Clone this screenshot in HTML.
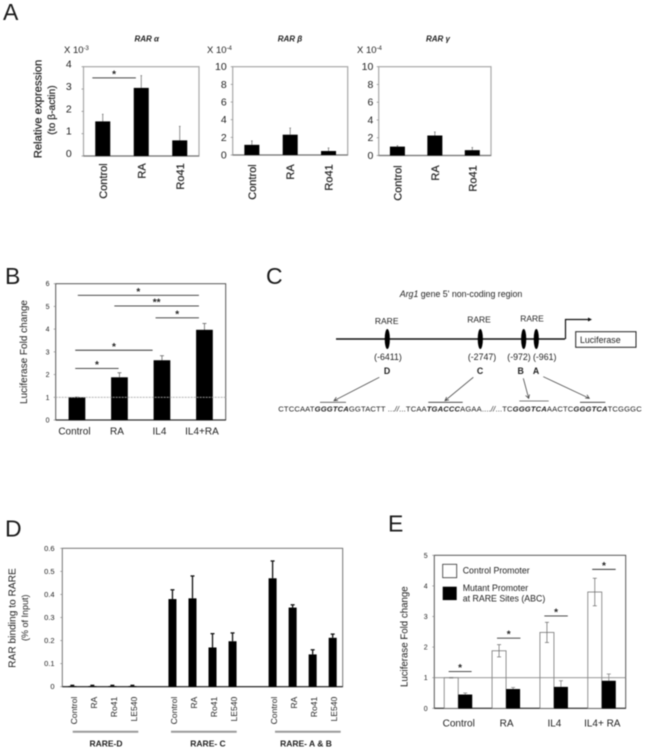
<!DOCTYPE html>
<html lang="en">
<head>
<meta charset="utf-8">
<title>RAR expression and Arg1 promoter figure</title>
<style>
html,body{margin:0;padding:0;background:#fff;}
body{width:645px;height:750px;overflow:hidden;}
svg{display:block;filter:blur(0.45px);}
text{font-family:"Liberation Sans",sans-serif;fill:#222;}
.panel-letter{font-size:23px;fill:#1a1a1a;}
.heavy{stroke:#222;stroke-width:0.2px;}
</style>
</head>
<body>
<svg id="figure" xmlns="http://www.w3.org/2000/svg" width="645" height="750" viewBox="0 0 645 750">
  <rect x="0" y="0" width="645" height="750" fill="#fff"/>
  <text class="panel-letter" x="3" y="20">A</text>
  <text class="panel-letter" x="5" y="284">B</text>
  <text class="panel-letter" x="266" y="284">C</text>
  <text class="panel-letter" x="5" y="536.5">D</text>
  <text class="panel-letter" x="388" y="531.5">E</text>

  <!-- Panel A annotations -->
  <text x="146.7" y="41.7" text-anchor="middle" font-size="8" font-weight="bold" font-style="italic">RAR α</text>
  <text x="290" y="41.7" text-anchor="middle" font-size="8" font-weight="bold" font-style="italic">RAR β</text>
  <text x="438" y="41.7" text-anchor="middle" font-size="8" font-weight="bold" font-style="italic">RAR γ</text>
  <text x="64" y="53" font-size="9.5">X 10<tspan font-size="6" dy="-3">-3</tspan></text>
  <text x="207" y="53" font-size="9.5">X 10<tspan font-size="6" dy="-3">-4</tspan></text>
  <text x="357" y="53" font-size="9.5">X 10<tspan font-size="6" dy="-3">-4</tspan></text>
  <text class="heavy" transform="translate(41.7,109) rotate(-90)" text-anchor="middle" font-size="11.3">Relative expression</text>
  <text class="heavy" transform="translate(55,110) rotate(-90)" text-anchor="middle" font-size="10.3">(to β-actin)</text>

  <!-- Panel B annotations -->
  <text transform="translate(27,352) rotate(-90)" text-anchor="middle" font-size="10">Luciferase Fold change</text>

  <!-- Panel C diagram -->
  <g fill="none">
    <text x="461" y="297" text-anchor="middle" font-size="8.8"><tspan font-style="italic">Arg1</tspan> gene 5' non-coding region</text>
    <line x1="336" y1="339" x2="565" y2="339" stroke="#111" stroke-width="1.5"/>
    <path d="M565.5 339V319.5H588" stroke="#111" stroke-width="1.2"/>
    <polygon points="588,317.5 592,319.5 588,321.5" fill="#111"/>
    <rect x="575.7" y="331.7" width="60.3" height="15.6" stroke="#222" stroke-width="1" fill="#fff"/>
    <text x="580" y="343" font-size="8.8">Luciferase</text>
    <ellipse cx="387.3" cy="339" rx="2.6" ry="10" fill="#000"/>
    <ellipse cx="480.3" cy="339" rx="2.6" ry="10" fill="#000"/>
    <ellipse cx="523.7" cy="339" rx="2.6" ry="10" fill="#000"/>
    <ellipse cx="536.3" cy="339" rx="2.6" ry="10" fill="#000"/>
    <text x="386.7" y="324" text-anchor="middle" font-size="8.5">RARE</text>
    <text x="479" y="322.5" text-anchor="middle" font-size="8.5">RARE</text>
    <text x="532" y="321.5" text-anchor="middle" font-size="8.5">RARE</text>
    <text x="388" y="360" text-anchor="middle" font-size="8.8">(-6411)</text>
    <text x="482" y="360" text-anchor="middle" font-size="8.8">(-2747)</text>
    <text x="519" y="360" text-anchor="middle" font-size="8.8">(-972)</text>
    <text x="544.7" y="360" text-anchor="middle" font-size="8.8">(-961)</text>
    <text x="387" y="374" text-anchor="middle" font-size="8.8" font-weight="bold">D</text>
    <text x="480" y="374" text-anchor="middle" font-size="8.8" font-weight="bold">C</text>
    <text x="520.7" y="374" text-anchor="middle" font-size="8.8" font-weight="bold">B</text>
    <text x="536" y="374" text-anchor="middle" font-size="8.8" font-weight="bold">A</text>
    <path d="M379.3 377.3L334 400.7M338 400.5L334 400.7L336.3 397.2" stroke="#444" stroke-width="0.8"/>
    <path d="M473.3 377.3L445 400.7M449 399.9L445 400.7L446.6 397" stroke="#444" stroke-width="0.8"/>
    <path d="M523.3 378.3L528.7 398.3M525.6 395.5L528.7 398.3L529.5 394.4" stroke="#444" stroke-width="0.8"/>
    <path d="M543.3 376.7L589.3 398.3M585.2 398.1L589.3 398.3L587 394.8" stroke="#444" stroke-width="0.8"/>
    <line x1="320" y1="402.3" x2="346" y2="402.3" stroke="#555" stroke-width="0.8"/>
    <line x1="428.3" y1="402.3" x2="462.7" y2="402.3" stroke="#333" stroke-width="0.8"/>
    <line x1="519.3" y1="401" x2="548.7" y2="401" stroke="#555" stroke-width="0.8"/>
    <line x1="580" y1="402.3" x2="605.3" y2="402.3" stroke="#333" stroke-width="0.8"/>
    <text x="278.3" y="411.7" font-size="7.6" textLength="363.4" lengthAdjust="spacing">CTCCAAT<tspan font-weight="bold" font-style="italic">GGGTCA</tspan>GGTACTT ...<tspan font-style="italic">//</tspan>...TCAA<tspan font-weight="bold" font-style="italic">TGACCC</tspan>AGAA....<tspan font-style="italic">//</tspan>...TC<tspan font-weight="bold" font-style="italic">GGGTCA</tspan>AACTC<tspan font-weight="bold" font-style="italic">GGGTCA</tspan>TCGGGC</text>
  </g>

  <!-- Panel D annotations -->
  <text transform="translate(15.5,618) rotate(-90)" text-anchor="middle" font-size="10.2">RAR binding to RARE</text>
  <text transform="translate(28,617.7) rotate(-90)" text-anchor="middle" font-size="9">(% of Input)</text>
  <line x1="72.7" y1="731.7" x2="138.3" y2="731.7" stroke="#999" stroke-width="2"/>
  <line x1="171" y1="731.7" x2="236.7" y2="731.7" stroke="#999" stroke-width="2"/>
  <line x1="275" y1="731.7" x2="340.7" y2="731.7" stroke="#999" stroke-width="2"/>
  <text x="106" y="746.7" text-anchor="middle" font-size="8.5" font-weight="bold">RARE-D</text>
  <text x="208" y="746.7" text-anchor="middle" font-size="8.5" font-weight="bold">RARE- C</text>
  <text x="306" y="746.7" text-anchor="middle" font-size="8.5" font-weight="bold">RARE- A &amp; B</text>

  <!-- Panel E annotations -->
  <text transform="translate(407.3,636.7) rotate(-90)" text-anchor="middle" font-size="9.7">Luciferase Fold change</text>
</svg>

<script>
// Panel A
const rarCategories = ['Control', 'RA', 'Ro41'];
const rarAlphaTicks = ['0', '1', '2', '3', '4'];
const rarAlphaValues = [1.55, 3.05, 0.7];
const rarAlphaErrors = [0.32, 0.55, 0.63];
const rarBetaTicks = ['0', '2', '4', '6', '8', '10'];
const rarBetaValues = [1.15, 2.3, 0.45];
const rarBetaErrors = [0.45, 0.75, 0.35];
const rarGammaTicks = ['0', '2', '4', '6', '8', '10'];
const rarGammaValues = [1.0, 2.25, 0.6];
const rarGammaErrors = [0.1, 0.4, 0.3];
const rarAlphaSigFrom = [-0.27];
const rarAlphaSigTo = [0.86];
const rarAlphaSigLevel = [3.5];
const rarAlphaSigLabels = ['*'];

// Panel B
const lucCategories = ['Control', 'RA', 'IL4', 'IL4+RA'];
const lucTicks = ['0', '1', '2', '3', '4', '5', '6'];
const lucValues = [1.0, 1.88, 2.63, 3.97];
const lucErrors = [0.01, 0.2, 0.2, 0.28];
const lucSigFrom = [0.02, 0.88, 1.85, -0.04, -0.04];
const lucSigTo = [2.87, 2.87, 2.87, 1.78, 0.98];
const lucSigLevel = [5.49, 5.02, 4.5, 3.07, 2.27];
const lucSigLabels = ['*', '**', '*', '*', '*'];

// Panel D
const chipCategories = ['Control', 'RA', 'Ro41', 'LE540', '', 'Control', 'RA', 'Ro41', 'LE540', '', 'Control', 'RA', 'Ro41', 'LE540'];
const chipTicks = ['0', '0.1', '0.2', '0.3', '0.4', '0.5', '0.6'];
const chipValues = [0.003, 0.003, 0.003, 0.003, null, 0.38, 0.383, 0.17, 0.197, null, 0.47, 0.343, 0.14, 0.212];
const chipErrors = [0.003, 0.003, 0.003, 0.003, null, 0.04, 0.097, 0.06, 0.036, null, 0.075, 0.012, 0.02, 0.016];

// Panel E
const mutCategories = ['Control', 'RA', 'IL4', 'IL4+ RA'];
const mutTicks = ['0', '1', '2', '3', '4', '5'];
const controlPromoterValues = [1.0, 1.88, 2.48, 3.8];
const controlPromoterErrors = [0.01, 0.2, 0.33, 0.45];
const mutantPromoterValues = [0.45, 0.63, 0.7, 0.9];
const mutantPromoterErrors = [0.05, 0.05, 0.2, 0.22];
const mutSigFrom = [-0.2, 0.81, 1.8, 2.8];
const mutSigTo = [0.28, 1.3, 2.29, 3.29];
const mutSigLevel = [1.2, 2.29, 3.02, 4.54];
const mutSigLabels = ['*', '*', '*', '*'];

const NS = 'http://www.w3.org/2000/svg';
const svg = document.getElementById('figure');

function make(tag, attrs, parent) {
  const node = document.createElementNS(NS, tag);
  for (const key in attrs) node.setAttribute(key, attrs[key]);
  parent.appendChild(node);
  return node;
}
function bandScale(left, right, count) {
  const band = (right - left) / count;
  return function (i) { return left + band * (i + 0.5); };
}
function linearScale(max, bottom, top) {
  return function (v) { return bottom - (v / max) * (bottom - top); };
}
function drawFrame(box, color, axisColor, width) {
  const frame = make('rect', { x: box.left, y: box.top, width: box.right - box.left, height: box.bottom - box.top, fill: 'none', stroke: color, 'stroke-width': width }, svg);
  
  
  const axis = make('line', { x1: box.left, y1: box.bottom, x2: box.right, y2: box.bottom, stroke: axisColor, 'stroke-width': 1.2 }, svg);
  
  
}
function drawYTicks(box, labels, max, yScale, style) {
  labels.forEach(function (label) {
    const y = yScale(Number(label));
    const tick = make('line', { x1: box.left - 2, y1: y, x2: box.left, y2: y, stroke: '#888', 'stroke-width': 0.7 }, svg);
    
    
    const text = make('text', { x: style.x, y: y + style.dy, 'text-anchor': 'end', 'font-size': style.size }, svg);
    text.textContent = label;
    
    
  });
}
function drawBar(box, cx, width, value, yScale, fill, stroke) {
  const y = yScale(value);
  const bar = make('rect', { x: cx - width / 2, y: y, width: width, height: box.bottom - y, fill: fill, stroke: stroke, 'stroke-width': stroke === 'none' ? 0 : 0.8 }, svg);
  
  
}
function drawError(box, cx, value, err, yScale, style) {
  const topY = yScale(value + err);
  const lowY = style.both ? yScale(value - err) : yScale(value);
  const line = make('line', { x1: cx, y1: lowY, x2: cx, y2: topY, stroke: style.color, 'stroke-width': style.width }, svg);
  
  
  if (style.cap > 0) {
    const cap = make('line', { x1: cx - style.cap, y1: topY, x2: cx + style.cap, y2: topY, stroke: style.color, 'stroke-width': style.width }, svg);
    
    
    if (style.both) {
      const lowCap = make('line', { x1: cx - style.cap, y1: lowY, x2: cx + style.cap, y2: lowY, stroke: style.color, 'stroke-width': style.width }, svg);
      
      
    }
  }
}
function drawRotatedLabels(box, labels, xScale, topY, size, shift, heavy) {
  labels.forEach(function (label, i) {
    if (!label) return;
    const text = make('text', { transform: 'translate(' + (xScale(i) + shift) + ',' + topY + ') rotate(-90)', 'text-anchor': 'end', 'font-size': size }, svg);
    if (heavy) text.setAttribute('class', 'heavy');
    text.textContent = label;
    
    
  });
}
function drawSignificance(box, from, to, level, labels, xScale, yScale, band, color) {
  labels.forEach(function (label, i) {
    const x1 = xScale(0) + from[i] * band;
    const x2 = xScale(0) + to[i] * band;
    const y = yScale(level[i]);
    const line = make('line', { x1: x1, y1: y, x2: x2, y2: y, stroke: color, 'stroke-width': 0.9 }, svg);
    
    
    const star = make('text', { x: (x1 + x2) / 2, y: y - 0.5, 'text-anchor': 'middle', 'font-size': 10, 'font-weight': 'bold' }, svg);
    star.textContent = label;
    
    
  });
}
function drawReference(box, value, yScale, color, dash) {
  const y = yScale(value);
  const line = make('line', { x1: box.left, y1: y, x2: box.right, y2: y, stroke: color, 'stroke-width': 0.9, 'stroke-dasharray': dash }, svg);
  
  
}

function drawRarChart(box, values, errors, ticks, max, tickStyle, labelTop) {
  const x = bandScale(box.left, box.right, values.length);
  const y = linearScale(max, box.bottom, box.top);
  drawFrame(box, '#a8a8a8', '#777', 1.2);
  drawYTicks(box, ticks, max, y, tickStyle);
  values.forEach(function (v, i) {
    drawError(box, x(i), v, errors[i], y, { color: '#777', width: 0.8, cap: 0.8 });
    drawBar(box, x(i), 15, v, y, '#000', 'none');
  });
  drawRotatedLabels(box, rarCategories, x, labelTop, 11, 4, true);
  return { x: x, y: y };
}

// Panel A charts
const alphaBox = { name: 'rar-alpha', left: 83.5, right: 199, top: 66.7, bottom: 156 };
const alphaAxes = drawRarChart(alphaBox, rarAlphaValues, rarAlphaErrors, rarAlphaTicks, 4, { x: 71.7, dy: 1, size: 10.5 }, 163.3);
drawSignificance(alphaBox, rarAlphaSigFrom, rarAlphaSigTo, rarAlphaSigLevel, rarAlphaSigLabels, alphaAxes.x, alphaAxes.y, 38.5, '#444');
const betaBox = { name: 'rar-beta', left: 232.7, right: 347.7, top: 66.7, bottom: 155 };
drawRarChart(betaBox, rarBetaValues, rarBetaErrors, rarBetaTicks, 10, { x: 226.7, dy: 3.5, size: 10.5 }, 164.3);
const gammaBox = { name: 'rar-gamma', left: 378.7, right: 491, top: 66.7, bottom: 155.5 };
drawRarChart(gammaBox, rarGammaValues, rarGammaErrors, rarGammaTicks, 10, { x: 373.3, dy: 3.5, size: 10.5 }, 165.3);

// Panel B chart
(function () {
  const box = { name: 'luciferase', left: 55.7, right: 225.7, top: 283.7, bottom: 420 };
  const x = bandScale(box.left, box.right, lucValues.length);
  const y = linearScale(6, box.bottom, box.top);
  drawFrame(box, '#444', '#333', 0.9);
  drawYTicks(box, lucTicks, 6, y, { x: 49.5, dy: 2.5, size: 7 });
  lucValues.forEach(function (v, i) {
    drawError(box, x(i), v, lucErrors[i], y, { color: '#666', width: 0.8, cap: 2 });
    drawBar(box, x(i), 16.7, v, y, '#000', 'none');
  });
  drawReference(box, 1, y, '#aaa', '2 1');
  lucCategories.forEach(function (label, i) {
    const text = make('text', { x: x(i) - 2.5, y: 434.3, 'text-anchor': 'middle', 'font-size': 10 }, svg);
    text.textContent = label;
    
    
  });
  drawSignificance(box, lucSigFrom, lucSigTo, lucSigLevel, lucSigLabels, x, y, 42.5, '#333');
})();

// Panel D chart
(function () {
  const box = { name: 'rar-binding', left: 62.3, right: 342.7, top: 548.3, bottom: 686.7 };
  const x = bandScale(box.left, box.right, chipCategories.length);
  const y = linearScale(0.6, box.bottom, box.top);
  drawFrame(box, '#666', '#222', 0.9);
  drawYTicks(box, chipTicks, 0.6, y, { x: 54.5, dy: 2.5, size: 7.5 });
  chipValues.forEach(function (v, i) {
    if (v === null) return;
    drawError(box, x(i), v, chipErrors[i], y, { color: '#111', width: 1.3, cap: 2 });
    drawBar(box, x(i), 8, v, y, '#000', 'none');
  });
  drawRotatedLabels(box, chipCategories, x, 696.7, 8.6, 4.5, false);
})();

// Panel E chart
(function () {
  const box = { name: 'mutant-promoter', left: 434.3, right: 625.7, top: 555.3, bottom: 708.3 };
  const x = bandScale(box.left, box.right, mutCategories.length);
  const y = linearScale(5, box.bottom, box.top);
  drawFrame(box, '#444', '#333', 0.9);
  drawYTicks(box, mutTicks, 5, y, { x: 427.7, dy: 2.5, size: 7 });
  controlPromoterValues.forEach(function (v, i) {
    drawBar(box, x(i) - 7, 14, v, y, '#fff', '#777');
    drawError(box, x(i) - 7, v, controlPromoterErrors[i], y, { color: '#666', width: 0.7, cap: 2, both: true });
  });
  mutantPromoterValues.forEach(function (v, i) {
    drawError(box, x(i) + 7, v, mutantPromoterErrors[i], y, { color: '#777', width: 0.7, cap: 2 });
    drawBar(box, x(i) + 7, 14, v, y, '#000', 'none');
  });
  drawReference(box, 1, y, '#888', 'none');
  mutCategories.forEach(function (label, i) {
    const text = make('text', { x: x(i) + 0.5, y: 726.7, 'text-anchor': 'middle', 'font-size': 10 }, svg);
    text.textContent = label;
    
    
  });
  drawSignificance(box, mutSigFrom, mutSigTo, mutSigLevel, mutSigLabels, x, y, 47.85, '#333');

  const whiteSwatch = make('rect', { x: 442.7, y: 564.3, width: 14, height: 13.4, fill: '#fff', stroke: '#333', 'stroke-width': 0.8 }, svg);
  
  
  const blackSwatch = make('rect', { x: 442.7, y: 586.7, width: 14, height: 13.4, fill: '#000' }, svg);
  
  
  const controlText = make('text', { x: 462.7, y: 573.3, 'font-size': 8.8 }, svg);
  controlText.textContent = 'Control Promoter';
  
  
  const mutantText = make('text', { x: 462.7, y: 591, 'font-size': 8.8 }, svg);
  mutantText.textContent = 'Mutant Promoter';
  
  
  const mutantText2 = make('text', { x: 462.7, y: 601.7, 'font-size': 8.8 }, svg);
  mutantText2.textContent = 'at RARE Sites (ABC)';
  
  
})();
</script>
</body>
</html>
